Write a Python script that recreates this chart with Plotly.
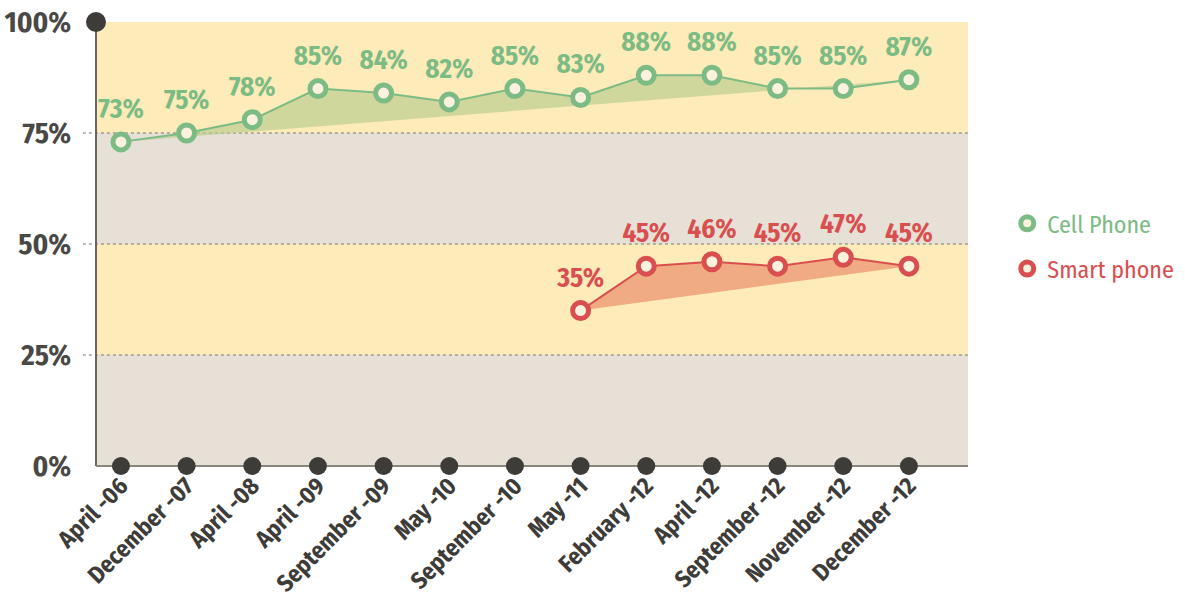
import plotly.graph_objects as go

categories = ["April -06", "December -07", "April -08", "April -09", "September -09",
              "May -10", "September -10", "May -11", "February -12", "April -12",
              "September -12", "November -12", "December -12"]
cell_phone = [73, 75, 78, 85, 84, 82, 85, 83, 88, 88, 85, 85, 87]
smart_phone = [None, None, None, None, None, None, None, 35, 45, 46, 45, 47, 45]
y_ticks = [0, 25, 50, 75, 100]
y_tick_text = ["0%", "25%", "50%", "75%", "100%"]

FONT = "Fira Sans Condensed, Open Sans Condensed, Roboto Condensed, sans-serif"
GREEN = "#7dbb85"
RED = "#d94f4f"
CREAM = "#fbf1dc"
DARK = "#3e3c39"
XMIN, XMAX = -0.38, 12.9

xs = list(range(len(categories)))
sx = [x for x, v in zip(xs, smart_phone) if v is not None]
sy = [v for v in smart_phone if v is not None]

fig = go.Figure()

for name, x, y, col, fc in [("Cell Phone", xs, cell_phone, GREEN, "rgba(184,204,140,0.65)"),
                            ("Smart phone", sx, sy, RED, "rgba(238,160,120,0.85)")]:
    fig.add_trace(go.Scatter(
        x=x, y=y, name=name, mode="lines+markers", showlegend=False,
        fill="toself", fillcolor=fc,
        line=dict(color=col, width=2),
        marker=dict(size=16, color=CREAM, line=dict(color=col, width=5)),
        cliponaxis=False,
    ))
    # value labels (invisible larger marker gives extra gap above the points)
    fig.add_trace(go.Scatter(
        x=x, y=y, mode="markers+text", showlegend=False, hoverinfo="skip",
        marker=dict(size=26, color="rgba(0,0,0,0)"),
        text=[f"{v}%" for v in y], textposition="top center",
        textfont=dict(family=FONT, size=27, color=col, weight="bold"),
        cliponaxis=False,
    ))

# legend-only entries
for i, (nm, col) in enumerate([("Cell Phone", GREEN), ("Smart phone", RED)]):
    fig.add_trace(go.Scatter(
        x=[None], y=[None], mode="markers", hoverinfo="skip",
        name=f"<span style='color:{col}'>{nm}</span>", legendgroup=f"g{i}",
        marker=dict(size=13, color=CREAM, line=dict(color=col, width=5)),
    ))
# axis dots
fig.add_trace(go.Scatter(
    x=xs, y=[0] * len(xs), mode="markers", showlegend=False, hoverinfo="skip",
    marker=dict(size=18, color=DARK), cliponaxis=False,
))
fig.add_trace(go.Scatter(
    x=[XMIN], y=[100], mode="markers", showlegend=False, hoverinfo="skip",
    marker=dict(size=20, color=DARK), cliponaxis=False,
))

shapes = []
bands = [(75, 100, "#fdebb9"), (50, 75, "#e6e0d6"), (25, 50, "#fdebb9"), (0, 25, "#e6e0d6")]
for y0, y1, c in bands:
    shapes.append(dict(type="rect", xref="paper", yref="y", x0=0, x1=1, y0=y0, y1=y1,
                       fillcolor=c, line=dict(width=0), layer="below"))
for g in [25, 50, 75]:
    shapes.append(dict(type="line", xref="paper", yref="y", x0=-0.015, x1=1, y0=g, y1=g,
                       line=dict(color="#777", width=1, dash="dot"), layer="below"))
shapes.append(dict(type="line", xref="paper", yref="paper", x0=0, x1=0, y0=0, y1=1,
                   line=dict(color="#6b6660", width=2), layer="below"))
shapes.append(dict(type="line", xref="paper", yref="paper", x0=0, x1=1, y0=0, y1=0,
                   line=dict(color="#8a857e", width=2), layer="below"))

fig.update_layout(
    width=1185, height=610,
    margin=dict(l=96, r=217, t=22, b=144, autoexpand=False),
    paper_bgcolor="white", plot_bgcolor="rgba(0,0,0,0)",
    shapes=shapes,
    showlegend=True,
    legend=dict(x=1.045, y=0.495, xanchor="left", yanchor="middle",
                font=dict(family=FONT, size=24), bgcolor="rgba(0,0,0,0)",
                tracegroupgap=11, itemwidth=30),
    xaxis=dict(range=[XMIN, XMAX], tickmode="array", tickvals=xs, ticktext=categories,
               tickangle=-45, showgrid=False, zeroline=False, showline=False,
               ticks="", ticklabelstandoff=0,
               tickfont=dict(family=FONT, size=24, color=DARK, weight="bold")),
    yaxis=dict(range=[0, 100], tickmode="array", tickvals=y_ticks, ticktext=y_tick_text,
               showgrid=False, zeroline=False, showline=False,
               ticks="outside", ticklen=18, tickcolor="rgba(0,0,0,0)",
               tickfont=dict(family=FONT, size=29, color="#4a4845", weight="bold")),
)

fig.write_html("out.html")
